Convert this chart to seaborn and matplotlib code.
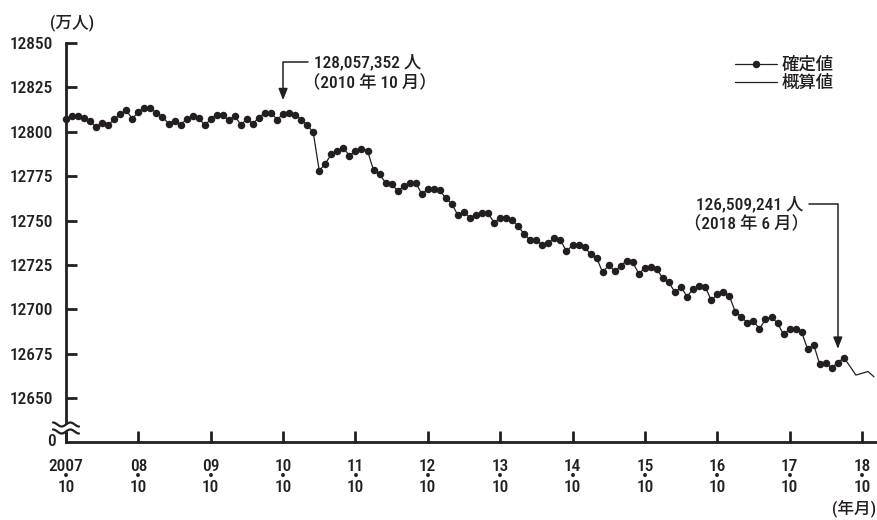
import numpy as np
import pandas as pd
import matplotlib
matplotlib.use("Agg")
import matplotlib.pyplot as plt
import seaborn as sns

# 人口推計（万人）, monthly from 2007-10
confirmed = [
    12807.1, 12808.8, 12808.8, 12807.5, 12806.1, 12802.6, 12805.2, 12803.9, 12807.1, 12809.9,
    12812.0, 12807.3, 12811.2, 12813.4, 12813.4, 12810.6, 12808.4, 12804.6, 12806.1, 12803.7,
    12807.3, 12808.8, 12807.8, 12803.7, 12807.1, 12809.7, 12809.3, 12806.5, 12808.9, 12803.9,
    12807.1, 12804.6, 12808.0, 12810.8, 12810.8, 12806.9, 12810.0, 12810.8, 12809.7, 12806.9,
    12803.7, 12799.7, 12778.0, 12782.1, 12787.3, 12789.2, 12790.9, 12786.6, 12789.2, 12790.5,
    12789.3, 12778.4, 12776.0, 12771.3, 12770.6, 12766.7, 12769.3, 12771.3, 12771.3, 12765.0,
    12767.7, 12767.7, 12767.0, 12762.5, 12759.4, 12752.9, 12754.7, 12751.7, 12753.2, 12754.3,
    12754.3, 12748.7, 12751.7, 12751.2, 12750.2, 12746.8, 12742.3, 12739.0, 12739.0, 12736.2,
    12737.5, 12740.0, 12739.0, 12732.6, 12736.3, 12736.2, 12735.2, 12730.9, 12729.0, 12720.8,
    12724.9, 12721.5, 12724.5, 12727.5, 12726.4, 12720.0, 12723.4, 12723.9, 12722.5, 12717.4,
    12715.2, 12709.5, 12712.7, 12707.1, 12711.6, 12713.3, 12712.7, 12705.2, 12708.4, 12709.9,
    12707.5, 12698.6, 12695.8, 12692.4, 12693.4, 12689.0, 12694.3, 12695.8, 12692.1, 12685.9,
    12688.7, 12688.7, 12687.0, 12677.6, 12680.1, 12669.0, 12669.6, 12667.1, 12670.0, 12672.7,
]
estimate = [12672.7, 12668.0, 12663.0, 12664.0, 12665.0, 12662.0]
estimate_start = len(confirmed) - 1

year_labels = ["2007", "08", "09", "10", "11", "12", "13", "14", "15", "16", "17", "18"]
month_label = "10"
y_ticks = [12650, 12675, 12700, 12725, 12750, 12775, 12800, 12825, 12850]

note_2010 = ("128,057,352 人", "（2010 年 10 月）", 36)
note_2018 = ("126,509,241 人", "（2018 年 6 月）", 128)

df_conf = pd.DataFrame({"month": np.arange(len(confirmed)), "value": confirmed})
df_est = pd.DataFrame({"month": np.arange(estimate_start, estimate_start + len(estimate)),
                       "value": estimate})

sns.set_style("ticks")
plt.rcParams["font.family"] = ["Roboto Condensed", "Liberation Sans Narrow",
                               "DejaVu Sans Condensed", "Noto Sans CJK JP", "DejaVu Sans"]
plt.rcParams["font.weight"] = "medium"
ink = "#231f20"
fs = 12.5

fig = plt.figure(figsize=(8.78, 5.2), dpi=100)
ax = fig.add_axes([66 / 878, 78 / 520, 812 / 878, 399 / 520])

sns.lineplot(data=df_conf, x="month", y="value", ax=ax, color=ink, linewidth=0.9,
             marker="o", markersize=5.4, markeredgewidth=0, label="確定値", clip_on=False)
sns.lineplot(data=df_est, x="month", y="value", ax=ax, color=ink, linewidth=0.9,
             label="概算値")

ax.set_xlim(0, 134.66)
ax.set_ylim(12625.3, 12850)
ax.set_xlabel("")
ax.set_ylabel("")

ax.set_yticks(y_ticks)
ax.set_yticklabels([str(v) for v in y_ticks])
ax.set_xticks(np.arange(0, 12 * len(year_labels), 12))
ax.set_xticklabels([f"{y}\n•\n{month_label}" for y in year_labels], linespacing=0.62)

for s in ["top", "right"]:
    ax.spines[s].set_visible(False)
for s in ["left", "bottom"]:
    ax.spines[s].set_linewidth(2)
    ax.spines[s].set_color(ink)
ax.tick_params(axis="both", direction="in", length=8, width=2, color=ink,
               labelsize=fs, labelcolor=ink)
ax.tick_params(axis="y", pad=9.5)
ax.tick_params(axis="x", pad=12)

# "0" at the foot of the broken axis and the break mark
ax.text(-10 / 812, 0, "0", transform=ax.transAxes, ha="right", va="center",
        fontsize=fs, color=ink)
wx = np.linspace(-13, 13, 60)
wave = 2.0 * np.sin(wx / 13 * np.pi * 1.5)
ax.fill_between(wx / 812, (14 - 3.5 + wave) / 399, (14 + 3.5 + wave) / 399,
                transform=ax.transAxes, color="white", clip_on=False, zorder=5, lw=0)
for off in (-3.5, 3.5):
    ax.plot(wx / 812, (14 + off + wave) / 399, transform=ax.transAxes, color=ink, lw=1.6,
            clip_on=False, zorder=6)

# unit labels
fig.text(50 / 878, 1 - 23 / 520, "(万人)", ha="left", va="center", fontsize=fs - 0.5, color=ink)
fig.text(876 / 878, 1 - 508 / 520, "(年月)", ha="right", va="center", fontsize=fs - 0.5, color=ink)

# annotations
arrow = dict(arrowstyle="-|>,head_length=0.55,head_width=0.22", color=ink, lw=1.1,
             connectionstyle="angle,angleA=0,angleB=90,rad=0", shrinkA=2, shrinkB=10)
i = note_2010[2]
ax.annotate(note_2010[0], xy=(i, confirmed[i]), xytext=(22, 37.5), textcoords="offset points",
            ha="left", va="center", fontsize=fs, color=ink, arrowprops=arrow)
ax.annotate(note_2010[1], xy=(i, confirmed[i]), xytext=(14, 22.5), textcoords="offset points",
            ha="left", va="center", fontsize=fs, color=ink)
i = note_2018[2]
ax.annotate(note_2018[0], xy=(i, confirmed[i]), xytext=(-25, 114), textcoords="offset points",
            ha="right", va="center", fontsize=fs, color=ink, arrowprops=arrow)
ax.annotate(note_2018[1], xy=(i, confirmed[i]), xytext=(-21, 99.5), textcoords="offset points",
            ha="right", va="center", fontsize=fs, color=ink)

leg = ax.legend(loc="upper left", bbox_to_anchor=((735 - 66) / 812, 0.966), frameon=False,
                fontsize=fs, handlelength=2.4, handletextpad=0.3, labelspacing=0.12,
                borderpad=0, borderaxespad=0)
for t in leg.get_texts():
    t.set_color(ink)

plt.savefig("out.png", dpi=100)
plt.close()
